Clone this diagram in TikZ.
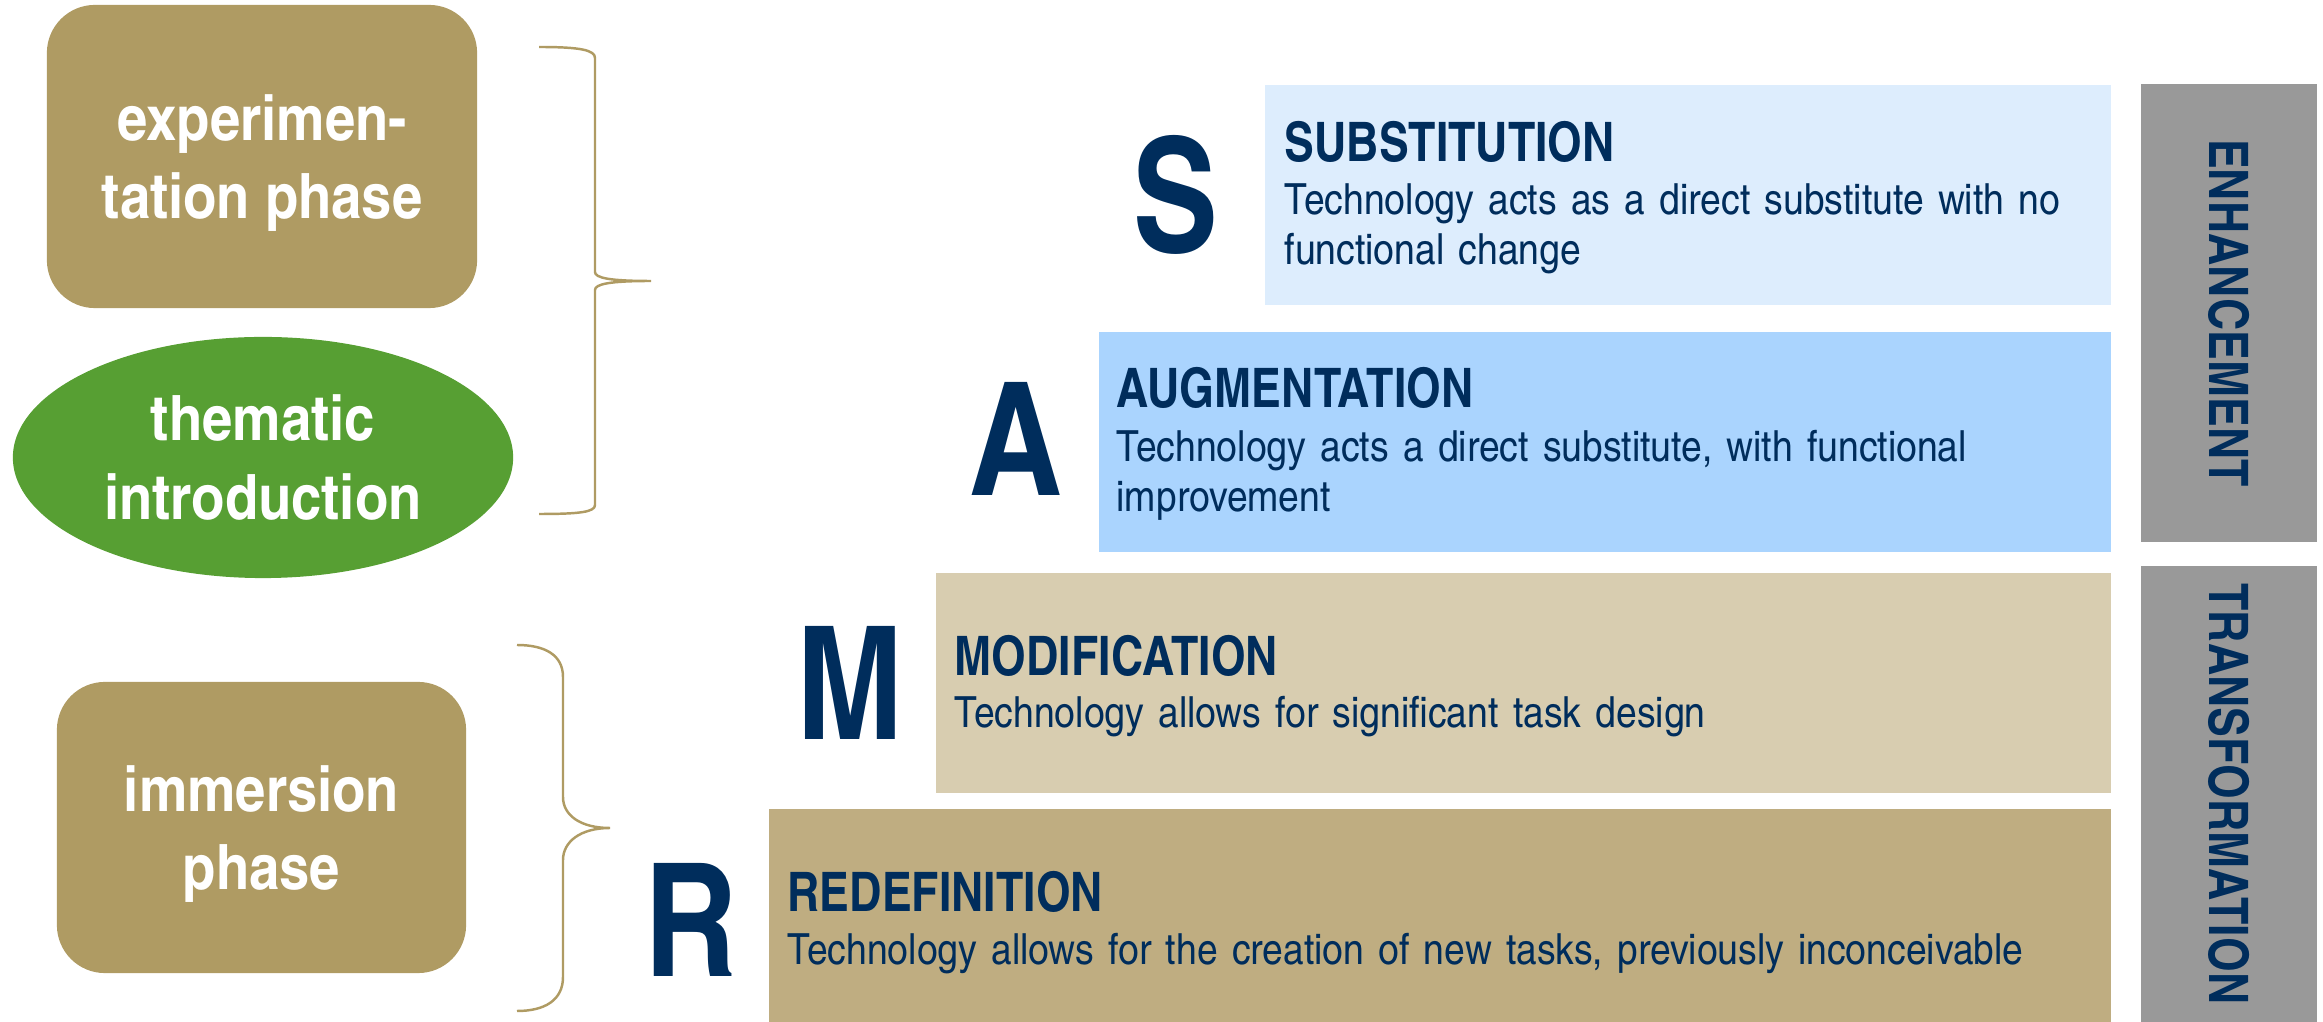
\documentclass[tikz,border=0pt]{standalone}
\usepackage{fontspec}
\setmainfont{texgyreheroscn}[Extension=.otf, UprightFont=*-regular, BoldFont=*-bold]
\newfontfamily\widecn{texgyreheroscn}[Extension=.otf, UprightFont=*-regular, BoldFont=*-bold, FakeStretch=1.06]
\usetikzlibrary{shapes.geometric}

\definecolor{samrnavy}{HTML}{002D5C}
\definecolor{phasetan}{HTML}{AF9B63}
\definecolor{introgreen}{HTML}{579F33}
\definecolor{subblue}{HTML}{DDEDFD}
\definecolor{augblue}{HTML}{AAD4FE}
\definecolor{modtan}{HTML}{D8CDB0}
\definecolor{redtan}{HTML}{BFAD81}
\definecolor{bargrey}{HTML}{999999}

\tikzset{
  phase/.style={rectangle, fill=phasetan, rounded corners=0.48cm, inner sep=0pt},
  phase text/.style={inner sep=0pt, text=white, align=center,
    font=\widecn\bfseries\fontsize{17.8}{22.2}\selectfont},
  intro/.style={ellipse, fill=introgreen, inner sep=0pt, text=white, align=center,
    font=\widecn\bfseries\fontsize{17.8}{22.2}\selectfont},
  level/.style={rectangle, anchor=north west, inner sep=0pt, minimum height=2.2cm},
  letter/.style={anchor=base, inner sep=0pt, text=samrnavy, font=\bfseries\fontsize{44.8}{50}\selectfont},
  title/.style={anchor=base west, inner sep=0pt, text=samrnavy, font=\bfseries\fontsize{15.5}{18}\selectfont},
  body/.style={anchor=base west, inner sep=0pt, text width=9.5cm, align=left,
    text=samrnavy, font=\widecn\fontsize{12.2}{14.2}\selectfont},
  bar/.style={rectangle, fill=bargrey, rotate=-90, inner sep=0pt, minimum height=1.76cm,
    text=samrnavy, font=\bfseries\fontsize{15.5}{18}\selectfont},
  brace/.style={draw=phasetan, line width=0.7pt}
}

\begin{document}
\begin{tikzpicture}[x=0.01cm, y=-0.01cm]
  \useasboundingbox (0,0) rectangle (2323,1022);

  % Phases on the left
  \node[phase, minimum width=4.3cm, minimum height=3.03cm] (exp) at (262,156.5) {};
  \node[phase text] (exp text) at ([yshift=-0.07cm]exp.center) {experimen-\\tation phase};
  \node[intro, minimum width=5.0cm, minimum height=2.41cm] (intro) at (263,457.5) {thematic\\introduction};
  \node[phase, minimum width=4.09cm, minimum height=2.91cm] (imm) at (261.5,827.5) {};
  \node[phase text] (imm text) at ([yshift=-0.07cm]imm.center) {immersion\\phase};

  % Braces
  \draw[brace] (539,47) .. controls (580,47) and (595,50) .. (595,58) -- (595,272)
    .. controls (595,278) and (610,281) .. (651,281)
    .. controls (610,281) and (595,284) .. (595,290) -- (595,505)
    .. controls (595,512) and (580,514) .. (539,514);
  \draw[brace] (517,645) .. controls (545,645) and (563,655) .. (563,677) -- (563,797)
    .. controls (563,815) and (580,828) .. (610,828)
    .. controls (580,828) and (563,842) .. (563,860) -- (563,977)
    .. controls (563,1000) and (545,1011) .. (517,1011);

  % SAMR levels
  \node[level, fill=subblue, minimum width=8.46cm] (sub) at (1264,84) {};
  \node[level, fill=augblue, minimum width=10.12cm] (aug) at (1098,331) {};
  \node[level, fill=modtan, minimum width=11.75cm] (mod) at (935,572) {};
  \node[level, fill=redtan, minimum width=13.42cm, minimum height=2.14cm] (red) at (768,808) {};

  \node[letter] (S) at (1176,252) {S};
  \node[letter] (A) at (1016,496) {A};
  \node[letter] (M) at (850,740) {M};
  \node[letter] (R) at (691,977) {R};

  \node[title] (sub title) at (1284,162) {SUBSTITUTION};
  \node[body] (sub text) at (1284,215) {Technology acts as a direct substitute with no\\functional change};
  \node[title] (aug title) at (1116,408) {AUGMENTATION};
  \node[body] (aug text) at (1116,462) {Technology acts a direct substitute, with functional\\improvement};
  \node[title] (mod title) at (954,676) {MODIFICATION};
  \node[body] (mod text) at (954,728) {Technology allows for significant task design};
  \node[title] (red title) at (787,912) {REDEFINITION};
  \node[body, text width=12.5cm] (red text) at (787,965) {Technology allows for the creation of new tasks, previously inconceivable};

  % Enhancement / transformation
  \node[bar, minimum width=4.58cm] (enh) at (2229,313) {ENHANCEMENT};
  \node[bar, minimum width=4.56cm] (trans) at (2229,794) {TRANSFORMATION};
\end{tikzpicture}
\end{document}
